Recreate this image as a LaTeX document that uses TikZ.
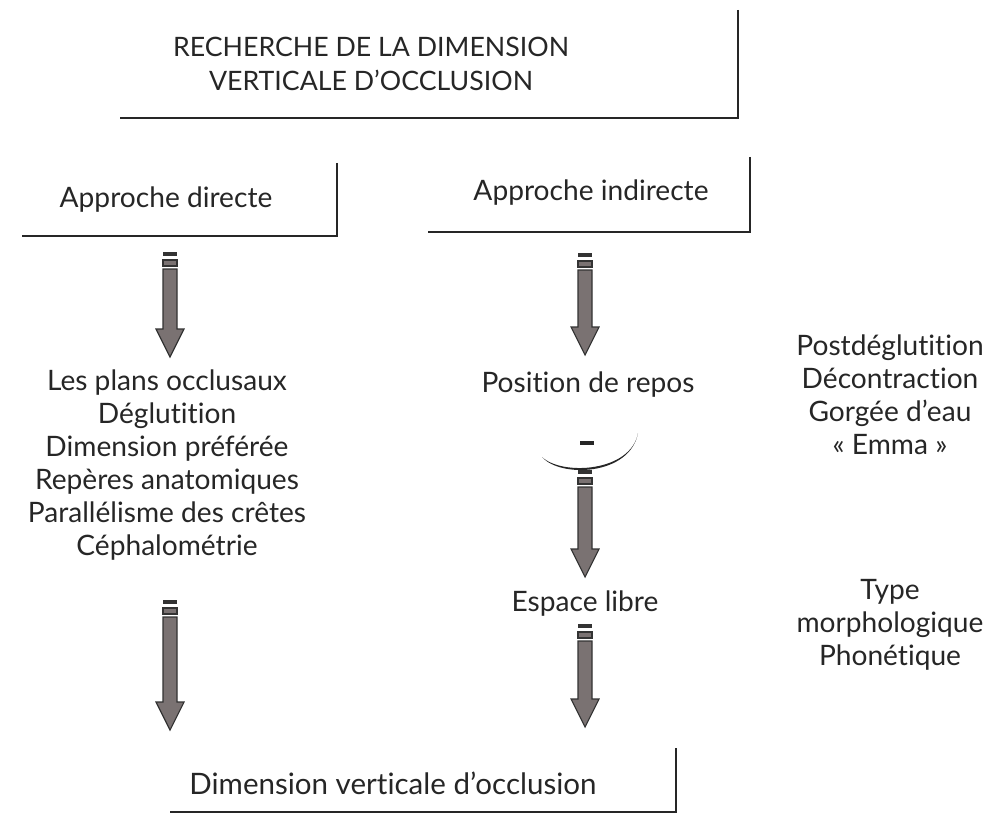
\documentclass[tikz,border=0pt]{standalone}
\usepackage{fontspec}
\setmainfont{Lato}[Ligatures=NoCommon, Contextuals=NoAlternate]
\usetikzlibrary{calc}

\definecolor{flechegris}{RGB}{122,114,114}

% grosse fleche grise : #1 haut, #2 pointe
\newcommand{\fleche}[2]{%
  \fill[black!80] ($(#1)+(-7,0)$) rectangle ($(#1)+(7,4)$);
  \filldraw[fill=flechegris, draw=black!80, line width=0.8pt]
    ($(#1)+(-7,8)$) rectangle ($(#1)+(7,14)$);
  \filldraw[fill=flechegris, draw=black!80, line width=0.8pt, line join=miter]
    ($(#1)+(-7,17)$) -- ($(#2)+(-7,-28)$) -- ($(#2)+(-14,-28)$) -- (#2)
    -- ($(#2)+(14,-28)$) -- ($(#2)+(7,-28)$) -- ($(#1)+(7,17)$) -- cycle;
}

\begin{document}
\begin{tikzpicture}[x=0.025cm, y=-0.025cm,
  texte/.style={align=center, font=\fontsize{20}{23.5}\selectfont, inner sep=0pt, text=black!85},
  equerre/.style={line width=1.2pt, black!85}
]
\useasboundingbox (0,0) rectangle (991,820);

\node[texte, font=\fontsize{19}{24.5}\selectfont] (titre) at (371,64) {RECHERCHE DE LA DIMENSION\\VERTICALE D'OCCLUSION};
\node[texte] (directe) at (166,200) {Approche directe};
\node[texte] (indirecte) at (591,193) {Approche indirecte};
\node[texte] (methodes) at (167,465) {Les plans occlusaux\\D\'eglutition\\Dimension pr\'ef\'er\'ee\\Rep\`eres anatomiques\\Parall\'elisme des cr\^etes\\C\'ephalom\'etrie};
\node[texte] (repos) at (588,385) {Position de repos};
\node[texte] (moins) at (587,443) {\rule{9.5pt}{2.2pt}};
\node[texte] (libre) at (585,604) {Espace libre};
\node[texte] (moyens) at (890,395) {Postd\'eglutition\\D\'econtraction\\Gorg\'ee d'eau\\\guillemotleft~Emma~\guillemotright};
\node[texte] (facteurs) at (890,625) {Type\\morphologique\\Phon\'etique};
\node[texte, font=\fontsize{21}{24}\selectfont] (dvo) at (393,783) {Dimension verticale d'occlusion};

% equerres des cadres
\draw[equerre] (738,10) |- (120,118);
\draw[equerre] (337,163) |- (22,236);
\draw[equerre] (750,157) |- (428,232);
\draw[equerre] (676,748) |- (170,812);

% arc sous la position de repos
\fill[black!85] (542,457) .. controls (560,478) and (630,476) .. (638,433)
  .. controls (631,472) and (562,476) .. cycle;

\coordinate (d1h) at (170,252);
\coordinate (d1b) at (170,357);
\coordinate (d2h) at (170,600);
\coordinate (d2b) at (170,730);
\coordinate (i1h) at (585,253);
\coordinate (i1b) at (585,355);
\coordinate (i2h) at (585,470);
\coordinate (i2b) at (585,577);
\coordinate (i3h) at (585,624);
\coordinate (i3b) at (585,727);

\fleche{d1h}{d1b}
\fleche{d2h}{d2b}
\fleche{i1h}{i1b}
\fleche{i2h}{i2b}
\fleche{i3h}{i3b}
\end{tikzpicture}
\end{document}
